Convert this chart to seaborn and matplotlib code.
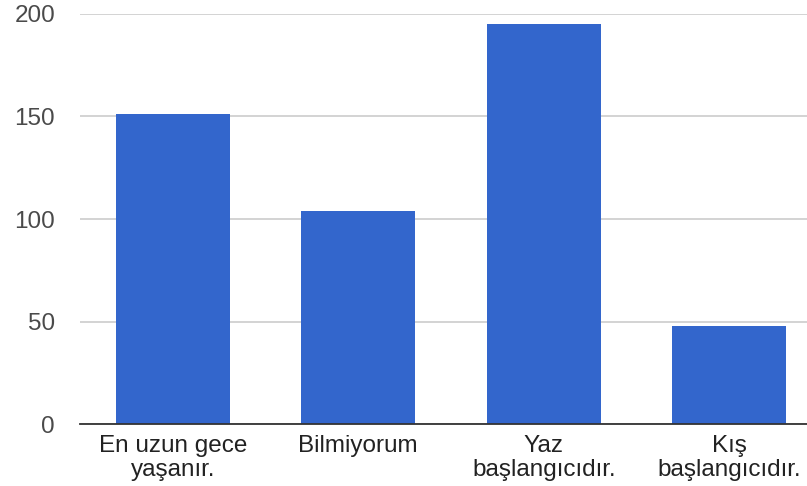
import pandas as pd
import seaborn as sns
import matplotlib.pyplot as plt

categories = ["En uzun gece\nyaşanır.", "Bilmiyorum", "Yaz\nbaşlangıcıdır.", "Kış\nbaşlangıcıdır."]
counts = [151, 104, 195, 48]
y_ticks = [0, 50, 100, 150, 200]

df = pd.DataFrame({"cevap": categories, "sayi": counts})

sns.set_style("white")
plt.rcParams["font.family"] = ["Liberation Sans", "DejaVu Sans"]

fig = plt.figure(figsize=(8.07, 4.86), dpi=100)
ax = fig.add_axes([80 / 807, 1 - 424 / 486, 727 / 807, 410 / 486])

sns.barplot(data=df, x="cevap", y="sayi", color="#3366cc", saturation=1,
            width=0.615, linewidth=0, ax=ax, zorder=3)

ax.set_ylim(0, 200)
ax.set_xlim(-0.5, 3.419)
ax.set_yticks(y_ticks)
ax.yaxis.grid(True, color="#cccccc", linewidth=1.2, zorder=0)
ax.set_axisbelow(True)
for s in ["top", "right", "left"]:
    ax.spines[s].set_visible(False)
ax.spines["bottom"].set_color("#333333")
ax.spines["bottom"].set_linewidth(1.3)
ax.spines["bottom"].set_zorder(4)

ax.tick_params(axis="y", length=0, pad=18, labelsize=17.5, labelcolor="#4a4a4a")
ax.tick_params(axis="x", length=0, pad=8, labelsize=17.5, labelcolor="#222222")
for lbl in ax.get_xticklabels():
    lbl.set_linespacing(1.1)
ax.set_xlabel("")
ax.set_ylabel("")

fig.savefig("out.png", dpi=100)
